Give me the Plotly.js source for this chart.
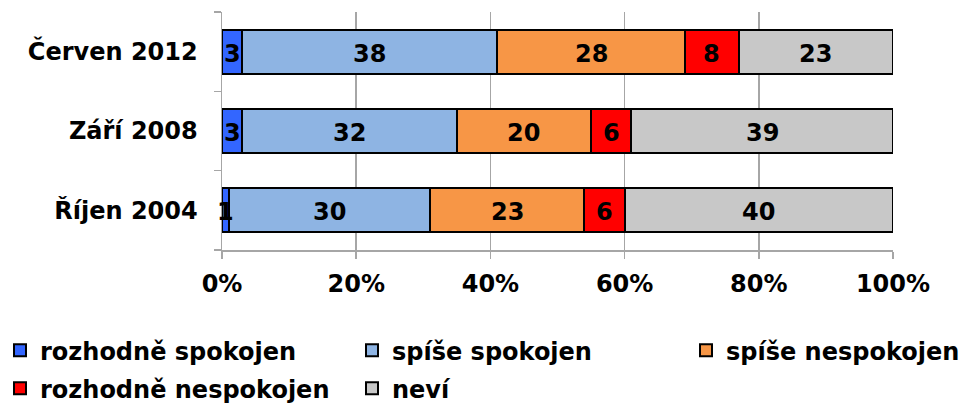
<!DOCTYPE html>
<html>
<head>
<meta charset="utf-8">
<script src="https://cdn.plot.ly/plotly-3.0.1.min.js"></script>
<style>html,body{margin:0;padding:0;background:#fff;}#chart{width:963px;height:403px;}</style>
</head>
<body>
<div id="chart"></div>
<script>
var categories = ['Říjen 2004', 'Září 2008', 'Červen 2012'];
var seriesNames = ['rozhodně spokojen', 'spíše spokojen', 'spíše nespokojen', 'rozhodně nespokojen', 'neví'];
var rozhodneSpokojen = [1, 3, 3];
var spiseSpokojen = [30, 32, 38];
var spiseNespokojen = [23, 20, 28];
var rozhodneNespokojen = [6, 6, 8];
var nevi = [40, 39, 23];
var xTickVals = [0, 20, 40, 60, 80, 100];
var xTickText = ['0%', '20%', '40%', '60%', '80%', '100%'];

var seriesValues = [rozhodneSpokojen, spiseSpokojen, spiseNespokojen, rozhodneNespokojen, nevi];
var colors = ['#3366FF', '#8EB4E3', '#F79646', '#FF0000', '#C8C8C8'];
// legend column for each series (reference legend layout: 3 columns, 2 rows)
var legendIds = ['legend', 'legend2', 'legend3', 'legend', 'legend2'];
var FONT = 'DejaVu Sans, Verdana, sans-serif';
var FS = 24;

var traces = seriesValues.map(function (vals, i) {
  return {
    type: 'bar',
    orientation: 'h',
    name: seriesNames[i],
    legend: legendIds[i],
    legendgroup: 'g' + i,
    y: categories,
    x: vals,
    textposition: 'none',
    marker: {color: colors[i], line: {color: '#000', width: 2}},
    hoverinfo: 'x+name'
  };
});

// data labels: centred on each segment, drawn above all bars
var annotations = [];
categories.forEach(function (cat, c) {
  var cum = 0;
  seriesValues.forEach(function (vals) {
    var v = vals[c];
    annotations.push({
      xref: 'x', yref: 'y',
      x: cum + v / 2, y: cat,
      text: String(v),
      showarrow: false,
      xanchor: 'center', yanchor: 'middle',
      yshift: -2,
      font: {family: FONT, size: FS, color: '#000', weight: 'bold'}
    });
    cum += v;
  });
});

function legendAt(xpx) {
  return {
    orientation: 'v',
    xref: 'container',
    yref: 'container',
    x: xpx / 963,
    xanchor: 'left',
    y: 0.186,
    yanchor: 'top',
    traceorder: 'grouped',
    tracegroupgap: 4,
    itemwidth: 30,
    font: {family: FONT, size: FS, color: '#000', weight: 'bold'},
    bgcolor: 'rgba(0,0,0,0)',
    borderwidth: 0
  };
}

var layout = {
  width: 963,
  height: 403,
  barmode: 'stack',
  bargap: 0.445,
  margin: {l: 222, r: 70, t: 12, b: 153, autoexpand: false},
  paper_bgcolor: '#fff',
  plot_bgcolor: '#fff',
  font: {family: FONT, size: FS, color: '#000', weight: 'bold'},
  showlegend: true,
  annotations: annotations,
  xaxis: {
    range: [0, 100],
    tickvals: xTickVals,
    ticktext: xTickText,
    showgrid: true,
    gridcolor: '#A6A6A6',
    gridwidth: 1.5,
    zeroline: false,
    showline: true,
    linecolor: '#A6A6A6',
    linewidth: 1.5,
    ticks: 'outside',
    ticklen: 7,
    tickcolor: '#A6A6A6',
    tickwidth: 1.5,
    ticklabelstandoff: 5,
    tickfont: {family: FONT, size: FS, color: '#000', weight: 'bold'},
    fixedrange: true
  },
  yaxis: {
    type: 'category',
    categoryorder: 'array',
    categoryarray: categories,
    tickson: 'boundaries',
    showgrid: false,
    zeroline: false,
    showline: true,
    linecolor: '#A6A6A6',
    linewidth: 1.5,
    ticks: 'outside',
    ticklen: 7,
    tickcolor: '#A6A6A6',
    tickwidth: 1.5,
    ticklabelstandoff: 18,
    tickfont: {family: FONT, size: FS, color: '#000', weight: 'bold'},
    fixedrange: true
  },
  legend: legendAt(0),
  legend2: legendAt(352),
  legend3: legendAt(686)
};

Plotly.newPlot('chart', traces, layout, {displayModeBar: false, staticPlot: true});
</script>
</body>
</html>
